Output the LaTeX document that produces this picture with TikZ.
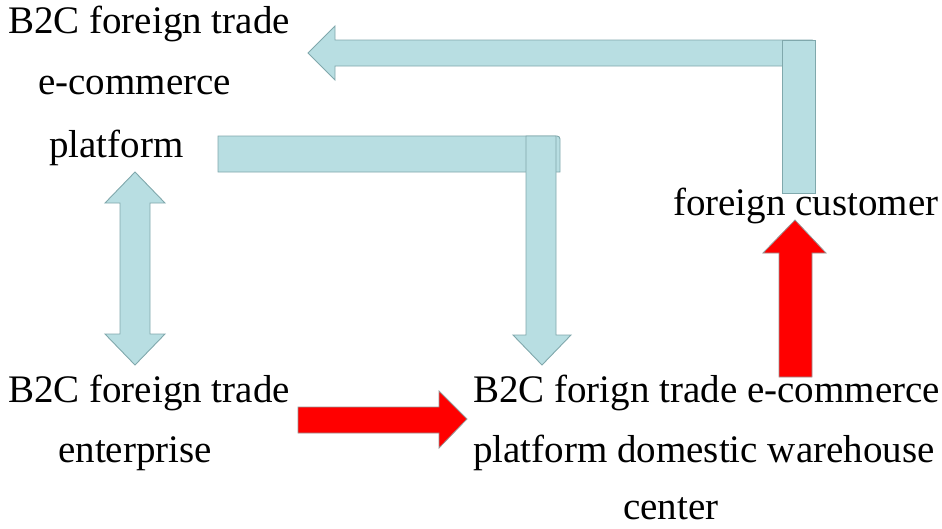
\documentclass[tikz,border=0pt]{standalone}
\usepackage{fontspec}
\setmainfont{Liberation Serif}
\definecolor{bluefill}{RGB}{184,222,226}
\definecolor{blueedge}{RGB}{128,168,172}
\definecolor{rededge}{RGB}{150,150,150}
\begin{document}
\begin{tikzpicture}[x=1pt,y=-1pt,
  lbl/.style={anchor=base west,inner sep=0pt,font=\fontsize{39}{47}\selectfont},
  bluearrow/.style={fill=bluefill,draw=blueedge,line width=0.9pt,line join=miter},
  redarrow/.style={fill=red,draw=rededge,line width=0.8pt,line join=miter}]
\useasboundingbox (0,0) rectangle (942,528);
% top L-shaped arrow (customer -> platform)
\draw[bluearrow] (308,53) -- (335,26) -- (335,40) [rounded corners=3pt] -- (815,40) [sharp corners] -- (815,66) -- (335,66) -- (335,80) -- cycle;
\draw[bluearrow] (782,40) rectangle (815,193);
% second L-shaped arrow (platform -> warehouse)
\draw[bluearrow] (218,136) [rounded corners=3pt] -- (560,136) [sharp corners] -- (560,172) -- (218,172) -- cycle;
\draw[bluearrow] (526,136) -- (556,136) -- (556,335) -- (571,335) -- (542,365) -- (513,335) -- (526,335) -- cycle;
% double arrow
\draw[bluearrow] (135,172) -- (165,203) -- (150,203) -- (150,334) -- (165,334) -- (135,365) -- (105,334) -- (120,334) -- (120,203) -- (105,203) -- cycle;
% red arrows
\draw[redarrow] (298,407) -- (439,407) -- (439,391) -- (467,419) -- (439,448) -- (439,433) -- (298,433) -- cycle;
\draw[redarrow] (795,220) -- (826,253) -- (812,253) -- (812,377) -- (779,377) -- (779,253) -- (763,253) -- cycle;
% texts
\node[lbl] (p1) at (8,33) {B2C foreign trade};
\node[lbl] (p2) at (38,94) {e-commerce};
\node[lbl] (p3) at (49,157) {platform};
\node[lbl] (c1) at (673,215) {foreign customer};
\node[lbl] (e1) at (8,402) {B2C foreign trade};
\node[lbl] (e2) at (58,462) {enterprise};
\node[lbl] (w1) at (473,402) {B2C forign trade e-commerce};
\node[lbl] (w2) at (473,462) {platform domestic warehouse};
\node[lbl] (w3) at (623,519) {center};
\end{tikzpicture}
\end{document}
